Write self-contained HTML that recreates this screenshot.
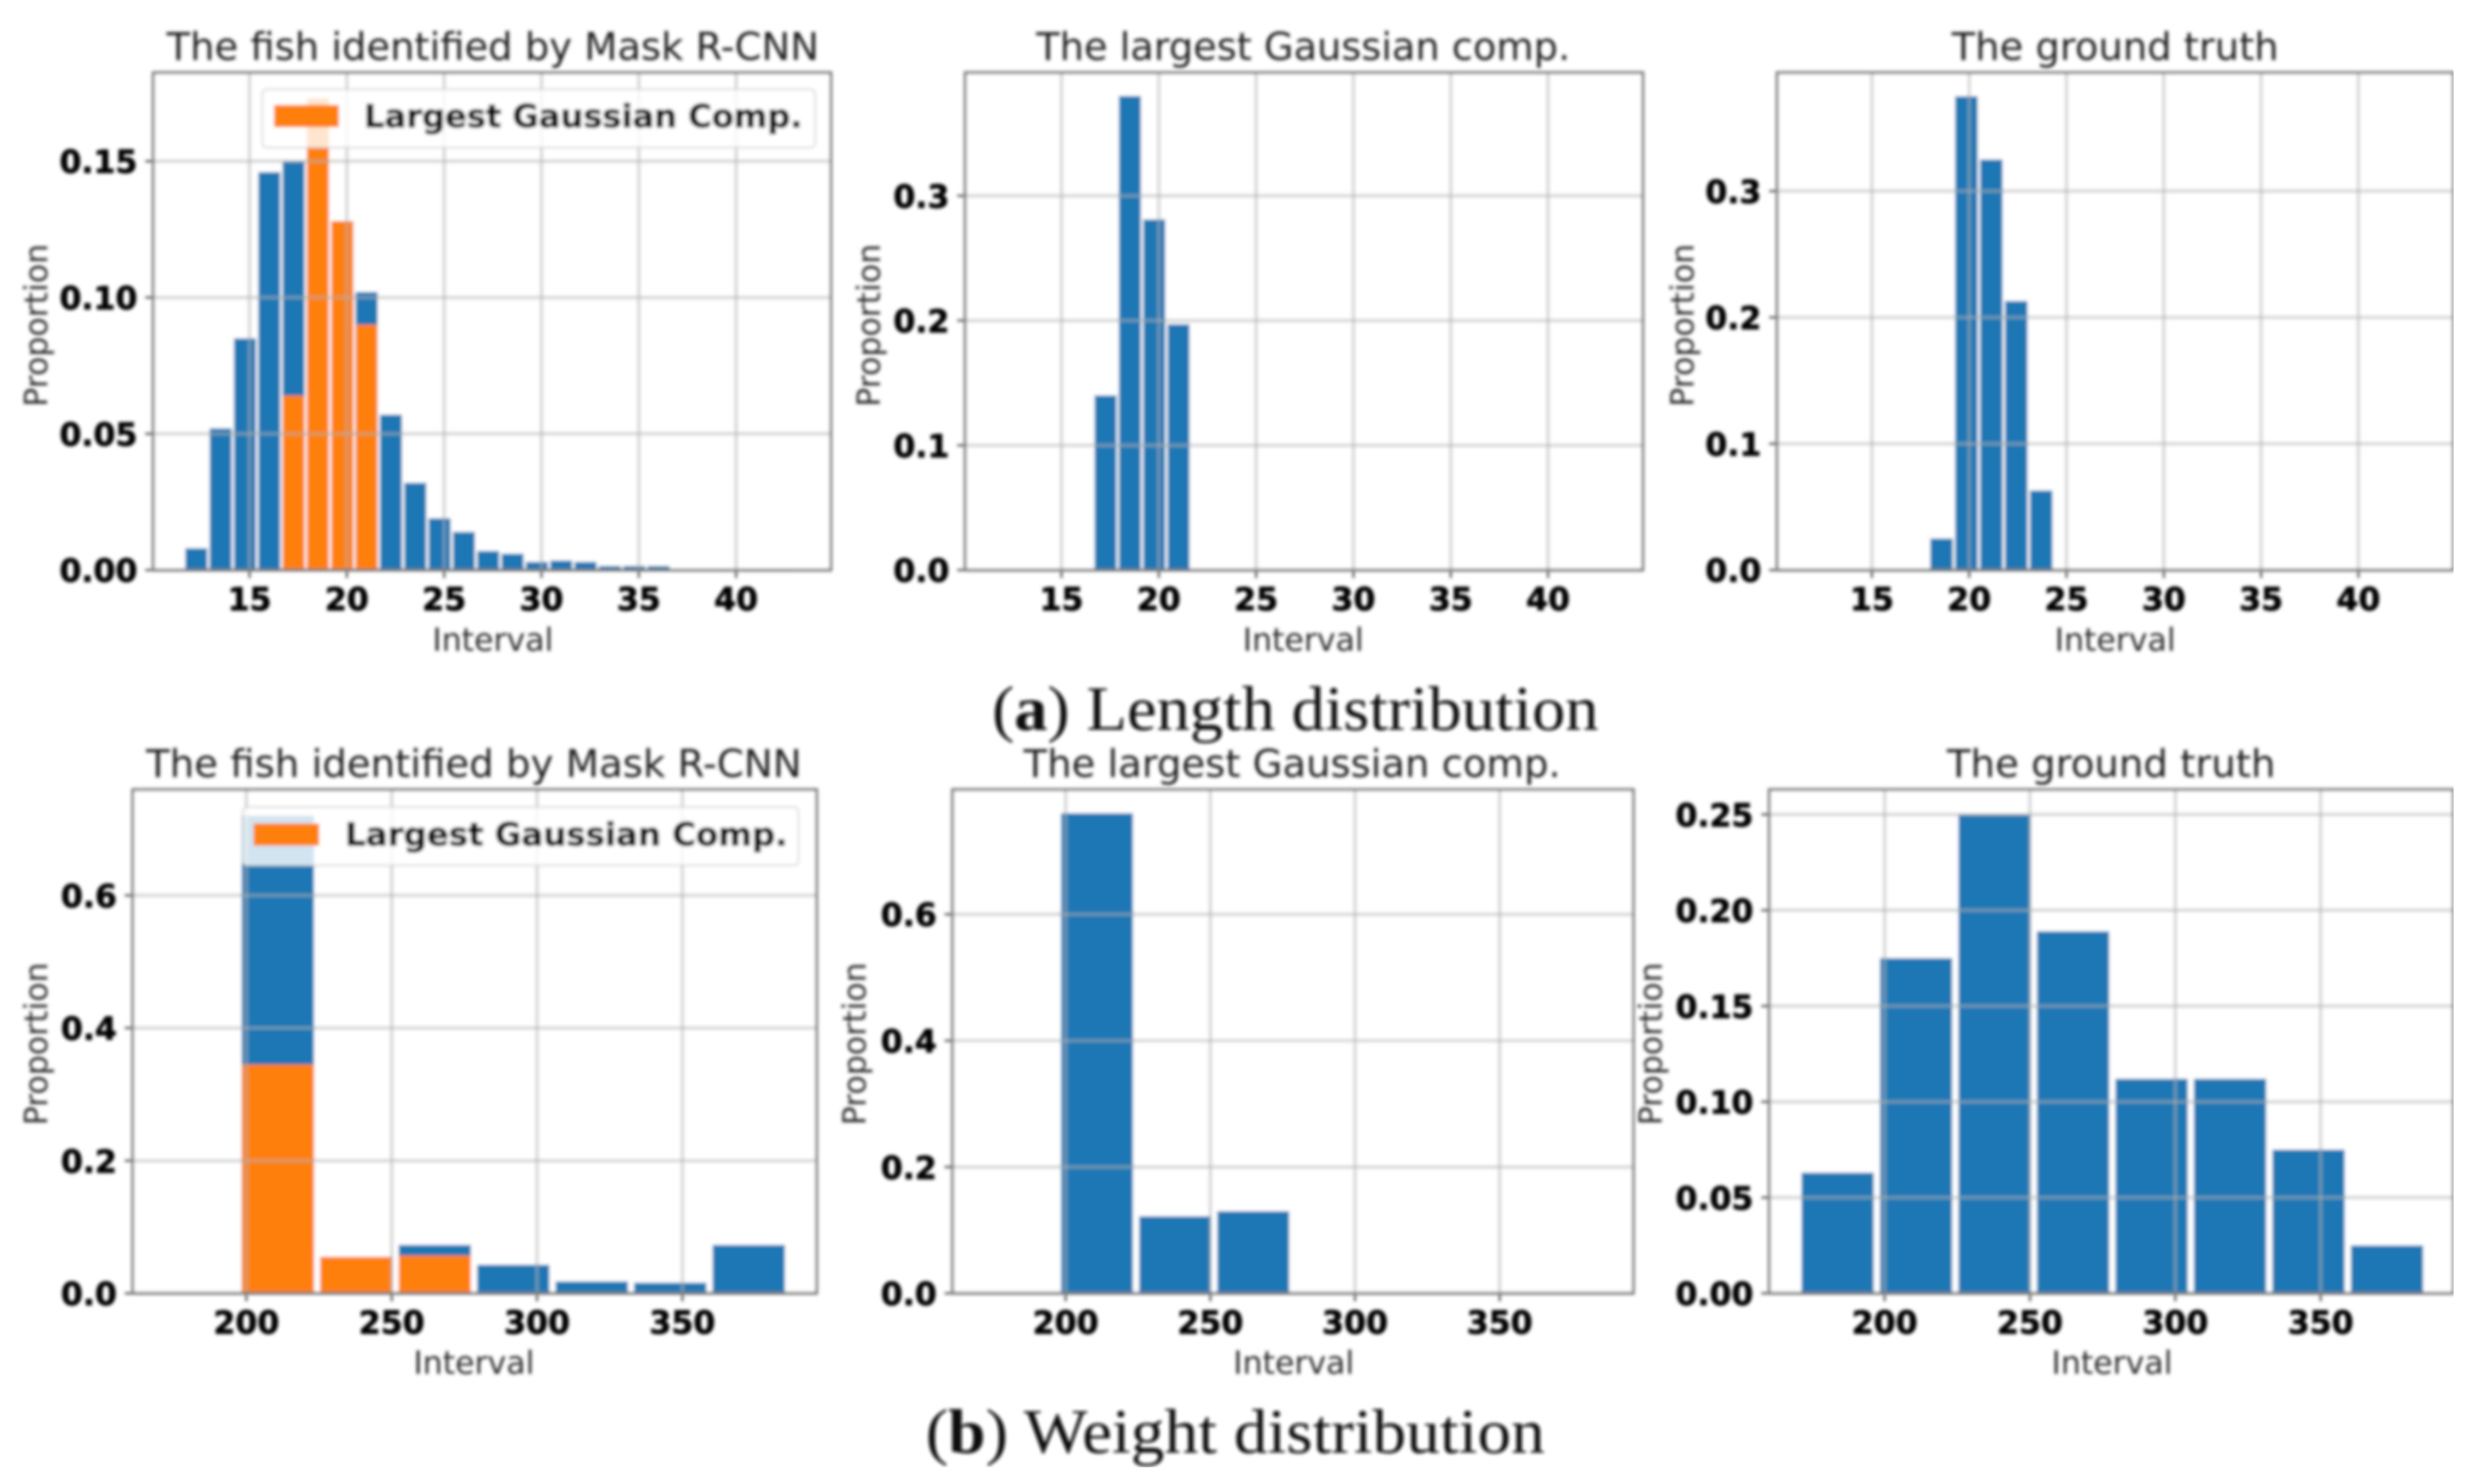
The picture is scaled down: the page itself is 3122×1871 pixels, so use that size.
<!DOCTYPE html>
<html>
<head>
<meta charset="utf-8">
<title>Length and weight distributions</title>
<style>
html,body{margin:0;padding:0;background:#fff;}
svg{display:block;}
text{font-family:"DejaVu Sans","Liberation Sans",sans-serif;}
.title{font-size:48px;fill:#222;text-anchor:middle;}
.axis-label{font-size:40px;fill:#2e2e2e;text-anchor:middle;}
.tick-label{font-size:40px;font-weight:bold;fill:#000;stroke:#000;stroke-width:0.8px;}
.legend-text{font-size:40px;font-weight:bold;fill:#000;stroke:#000;stroke-width:0.8px;}
.caption{font-family:"Liberation Serif",serif;font-size:80px;fill:#111;}
</style>
</head>
<body>
<svg id="figure" xmlns="http://www.w3.org/2000/svg" width="3122" height="1871" viewBox="0 0 3122 1871">
<defs><filter id="soft" x="0" y="0" width="100%" height="100%"><feGaussianBlur stdDeviation="2"/></filter></defs>
<rect width="3122" height="1871" fill="#fff"/>
<g filter="url(#soft)">
<g transform="scale(0.9955)">
<g id="plots"></g>

<text class="title" x="624" y="76" textLength="826" lengthAdjust="spacingAndGlyphs">The fish identified by Mask R-CNN</text>
<text class="title" x="1650" y="76" textLength="676" lengthAdjust="spacingAndGlyphs">The largest Gaussian comp.</text>
<text class="title" x="2678" y="76" textLength="414" lengthAdjust="spacingAndGlyphs">The ground truth</text>
<text class="title" x="600" y="984" textLength="830" lengthAdjust="spacingAndGlyphs">The fish identified by Mask R-CNN</text>
<text class="title" x="1636" y="984" textLength="680" lengthAdjust="spacingAndGlyphs">The largest Gaussian comp.</text>
<text class="title" x="2673" y="984" textLength="416" lengthAdjust="spacingAndGlyphs">The ground truth</text>

<text class="axis-label" x="624" y="824">Interval</text>
<text class="axis-label" x="1650" y="824">Interval</text>
<text class="axis-label" x="2678" y="824">Interval</text>
<text class="axis-label" x="600" y="1740">Interval</text>
<text class="axis-label" x="1638" y="1740">Interval</text>
<text class="axis-label" x="2674" y="1740">Interval</text>

<text class="axis-label" transform="translate(60,412) rotate(-90)">Proportion</text>
<text class="axis-label" transform="translate(1114,412) rotate(-90)">Proportion</text>
<text class="axis-label" transform="translate(2144,412) rotate(-90)">Proportion</text>
<text class="axis-label" transform="translate(60,1322) rotate(-90)">Proportion</text>
<text class="axis-label" transform="translate(1096,1322) rotate(-90)">Proportion</text>
<text class="axis-label" transform="translate(2104,1322) rotate(-90)">Proportion</text>

<g>
<rect x="332" y="113" width="700" height="74" rx="6" fill="#fff" fill-opacity="0.8" stroke="#ccc" stroke-opacity="0.8" stroke-width="2"/>
<rect x="347" y="133" width="82" height="28" fill="#ff7f0e"/>
<text class="legend-text" x="461" y="161" textLength="555" lengthAdjust="spacingAndGlyphs">Largest Gaussian Comp.</text>
</g>
<g>
<rect x="307" y="1022" width="704" height="74" rx="6" fill="#fff" fill-opacity="0.8" stroke="#ccc" stroke-opacity="0.8" stroke-width="2"/>
<rect x="321" y="1043" width="83" height="28" fill="#ff7f0e"/>
<text class="legend-text" x="437" y="1071" textLength="560" lengthAdjust="spacingAndGlyphs">Largest Gaussian Comp.</text>
</g>

<text class="caption" x="1256" y="924" textLength="768" lengthAdjust="spacingAndGlyphs">(<tspan font-weight="bold">a</tspan>) Length distribution</text>
<text class="caption" x="1172" y="1840" textLength="784" lengthAdjust="spacingAndGlyphs">(<tspan font-weight="bold">b</tspan>) Weight distribution</text>
</g>
</g>
</svg>
<script>
// Bin left edges (data units)
const lengthBins = [11.7,12.95,14.2,15.45,16.7,17.95,19.2,20.45,21.7,22.95,24.2,25.45,26.7,27.95,29.2,30.45,31.7,32.95,34.2,35.45,36.7,37.95,39.2,40.45,41.7];
const lengthTruthBins = [18.0,19.28,20.56,21.84,23.12];
const weightBins = [171.4,198.4,225.4,252.4,279.4,306.4,333.4,360.4];

// Series values
const lengthMaskAll = [0.008,0.052,0.085,0.146,0.150,0.155,0.128,0.102,0.057,0.032,0.019,0.014,0.007,0.006,0.003,0.0035,0.003,0.0015,0.0015,0.0015,0.0002,0.0002,0.0004,0.0004,0.0004];
const lengthMaskGaussian = [0,0,0,0,0.064,0.173,0.128,0.090,0,0,0,0,0,0,0,0,0,0,0,0,0,0,0,0,0];
const lengthGaussian = [0,0,0,0,0.140,0.380,0.281,0.197,0,0,0,0,0,0,0,0,0,0,0,0,0,0,0,0,0];
const lengthTruth = [0.025,0.375,0.325,0.213,0.063];
const weightMaskAll = [0,0.72,0.055,0.073,0.043,0.018,0.016,0.073];
const weightMaskGaussian = [0,0.345,0.055,0.057,0,0,0,0];
const weightGaussian = [0,0.76,0.122,0.13,0,0,0,0];
const weightTruth = [0.063,0.175,0.250,0.189,0.112,0.112,0.075,0.025];

// Tick labels
const lengthXTicks = ["15","20","25","30","35","40"];
const weightXTicks = ["200","250","300","350"];
const yTicksLengthMask = ["0.00","0.05","0.10","0.15"];
const yTicksLengthGaussian = ["0.0","0.1","0.2","0.3"];
const yTicksLengthTruth = ["0.0","0.1","0.2","0.3"];
const yTicksWeightMask = ["0.0","0.2","0.4","0.6"];
const yTicksWeightGaussian = ["0.0","0.2","0.4","0.6"];
const yTicksWeightTruth = ["0.00","0.05","0.10","0.15","0.20","0.25"];

const NS = 'http://www.w3.org/2000/svg';
const root = document.getElementById('plots');
const BIN_LEN = 1.25, BIN_LEN_TRUTH = 1.28, BIN_WT = 27, RWIDTH = 0.9, RWIDTH_WT = 0.92;
const BLUE = '#1f77b4', ORANGE = '#ff7f0e';

function node(parent, tag, attrs) {
  const el = document.createElementNS(NS, tag);
  for (const k in attrs) el.setAttribute(k, attrs[k]);
  parent.appendChild(el);
  return el;
}

function drawPanel(cfg) {
  const g = node(root, 'g', {});
  
  
  const x = v => cfg.left + (v - cfg.xMin) / (cfg.xMax - cfg.xMin) * (cfg.right - cfg.left);
  const y = v => cfg.bottom - v / cfg.yMax * (cfg.bottom - cfg.top);

  node(g, 'rect', {x: cfg.left, y: cfg.top, width: cfg.right - cfg.left, height: cfg.bottom - cfg.top, fill: '#fff'});

  const drawBars = (values, color, label) => {
    values.forEach((v, i) => {
      if (v <= 0) return;
      const x0 = x(cfg.bins[i]);
      const x1 = x(cfg.bins[i] + cfg.binWidth * cfg.rwidth);
      const bar = node(g, 'rect', {x: x0, y: y(v), width: x1 - x0, height: y(0) - y(v), fill: color});
      
      
    });
  };
  drawBars(cfg.series, BLUE, 'all');
  if (cfg.overlay) drawBars(cfg.overlay, ORANGE, 'gaussian');

  cfg.xTicks.forEach(t => {
    const px = x(Number(t));
    const grid = node(g, 'line', {x1: px, x2: px, y1: cfg.top, y2: cfg.bottom, stroke: '#b0b0b0', 'stroke-width': 4, 'stroke-opacity': 0.55});
    
    
    const tick = node(g, 'line', {x1: px, x2: px, y1: cfg.bottom, y2: cfg.bottom + 10, stroke: '#444', 'stroke-width': 2.5});
    
    
    const lab = node(g, 'text', {x: px, y: cfg.bottom + 51, 'text-anchor': 'middle', class: 'tick-label'});
    lab.textContent = t;
    
    
  });
  cfg.yTicks.forEach(t => {
    const py = y(Number(t));
    const grid = node(g, 'line', {x1: cfg.left, x2: cfg.right, y1: py, y2: py, stroke: '#b0b0b0', 'stroke-width': 4, 'stroke-opacity': 0.55});
    
    
    const tick = node(g, 'line', {x1: cfg.left - 10, x2: cfg.left, y1: py, y2: py, stroke: '#444', 'stroke-width': 2.5});
    
    
    const lab = node(g, 'text', {x: cfg.left - 20, y: py + 15, 'text-anchor': 'end', class: 'tick-label'});
    lab.textContent = t;
    
    
  });
  const frame = node(g, 'rect', {x: cfg.left, y: cfg.top, width: cfg.right - cfg.left, height: cfg.bottom - cfg.top, fill: 'none', stroke: '#777', 'stroke-width': 3.5});
  
  
}

drawPanel({name:'length-mask-rcnn', left:194, right:1052, top:92, bottom:722, xMin:10.05, xMax:44.87, yMax:0.1825, bins:lengthBins, binWidth:BIN_LEN, rwidth:RWIDTH, series:lengthMaskAll, overlay:lengthMaskGaussian, xTicks:lengthXTicks, yTicks:yTicksLengthMask});
drawPanel({name:'length-gaussian', left:1222, right:2080, top:92, bottom:722, xMin:10.05, xMax:44.87, yMax:0.3987, bins:lengthBins, binWidth:BIN_LEN, rwidth:RWIDTH, series:lengthGaussian, xTicks:lengthXTicks, yTicks:yTicksLengthGaussian});
drawPanel({name:'length-truth', left:2250, right:3106, top:92, bottom:722, xMin:10.13, xMax:44.87, yMax:0.39375, bins:lengthTruthBins, binWidth:BIN_LEN_TRUTH, rwidth:RWIDTH, series:lengthTruth, xTicks:lengthXTicks, yTicks:yTicksLengthTruth});
drawPanel({name:'weight-mask-rcnn', left:168, right:1034, top:1000, bottom:1638, xMin:160.9, xMax:396.2, yMax:0.7595, bins:weightBins, binWidth:BIN_WT, rwidth:RWIDTH_WT, series:weightMaskAll, overlay:weightMaskGaussian, xTicks:weightXTicks, yTicks:yTicksWeightMask});
drawPanel({name:'weight-gaussian', left:1206, right:2068, top:1000, bottom:1638, xMin:160.9, xMax:396.2, yMax:0.7975, bins:weightBins, binWidth:BIN_WT, rwidth:RWIDTH_WT, series:weightGaussian, xTicks:weightXTicks, yTicks:yTicksWeightGaussian});
drawPanel({name:'weight-truth', left:2240, right:3106, top:1000, bottom:1638, xMin:160.3, xMax:395.6, yMax:0.263, bins:weightBins, binWidth:BIN_WT, rwidth:RWIDTH_WT, series:weightTruth, xTicks:weightXTicks, yTicks:yTicksWeightTruth});
</script>
</body>
</html>
